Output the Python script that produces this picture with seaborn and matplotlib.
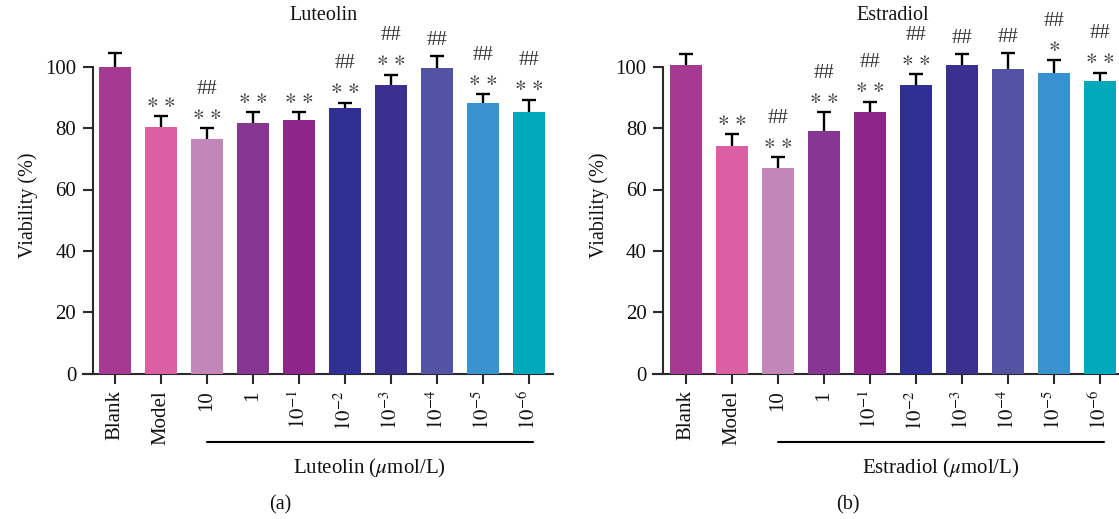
import numpy as np
import pandas as pd
import seaborn as sns
import matplotlib
matplotlib.use("Agg")
import matplotlib.pyplot as plt
import matplotlib.transforms as mtransforms

# ---------------- data ----------------
categories = ["Blank", "Model", "10", "1", "$10^{-1}$", "$10^{-2}$",
              "$10^{-3}$", "$10^{-4}$", "$10^{-5}$", "$10^{-6}$"]
colors = ["#A63A93", "#DC5FA4", "#C286B9", "#873792", "#8E2589",
          "#303092", "#3B2F90", "#5253A3", "#3892D0", "#00A8BC"]

lut_mean = [100.0, 80.2, 76.3, 81.5, 82.5, 86.7, 93.9, 99.5, 88.3, 85.1]
lut_upper = [104.3, 83.9, 80.0, 85.2, 85.1, 88.3, 97.4, 103.5, 91.1, 89.2]
lut_star = ["", "**", "**", "**", "**", "**", "**", "", "**", "**"]
lut_hash = ["", "", "##", "", "", "##", "##", "##", "##", "##"]

est_mean = [100.4, 74.3, 67.1, 79.2, 85.1, 94.2, 100.4, 99.1, 98.1, 95.2]
est_upper = [104.2, 78.0, 70.5, 85.2, 88.6, 97.6, 104.2, 104.6, 102.1, 98.0]
est_star = ["", "**", "**", "**", "**", "**", "", "", "*", "**"]
est_hash = ["", "", "##", "##", "##", "##", "##", "##", "##", "##"]

yticks = [0, 20, 40, 60, 80, 100]

# ---------------- style ----------------
sns.set_style("ticks")
plt.rcParams["font.family"] = ["Liberation Serif", "DejaVu Serif"]
plt.rcParams["mathtext.fontset"] = "stix"

W, H = 1119, 519
fig = plt.figure(figsize=(W / 100, H / 100), dpi=100)

AX_COLOR = "#2a2a2a"
ANN_COLOR = "#333333"
TXT = "#111111"
y_bottom_px = 373.7
px_per_unit_y = 3.07
ymax = 110.0
ax_h_px = ymax * px_per_unit_y


def make_panel(left_px, right_px, xlim, spine_x, mean, upper, stars, hashes,
               title, title_x, xlab, line_span, panel_lab, panel_x):
    ax = fig.add_axes([left_px / W, (H - y_bottom_px) / H,
                       (right_px - left_px) / W, ax_h_px / H])
    df = pd.DataFrame({"group": categories, "viability": mean})
    sns.barplot(data=df, x="group", y="viability", hue="group",
                order=categories, hue_order=categories, palette=colors,
                saturation=1, legend=False, width=0.7, ax=ax, zorder=3,
                errorbar=None, linewidth=0)
    xs = np.arange(len(categories))
    err = np.array(upper) - np.array(mean)
    ax.errorbar(xs, mean, yerr=err, fmt="none", ecolor="black",
                elinewidth=1.7, capsize=5, capthick=1.7, zorder=1)

    ax.set_xlim(*xlim)
    ax.set_ylim(0, ymax)
    ax.set_yticks(yticks)
    ax.set_yticklabels([str(t) for t in yticks])
    ax.set_xticks(xs)
    ax.set_xticklabels(categories, rotation=90, va="top", ha="center")
    ax.set_xlabel("")
    ax.set_ylabel("Viability (%)", fontsize=14.5, labelpad=5, color=TXT)

    for s in ("top", "right"):
        ax.spines[s].set_visible(False)
    ax.spines["left"].set_position(("data", spine_x))
    ax.spines["left"].set_bounds(0, 100)
    for s in ("left", "bottom"):
        ax.spines[s].set_color(AX_COLOR)
        ax.spines[s].set_linewidth(1.5)
    ax.tick_params(axis="both", direction="out", length=7, width=1.5,
                   color=AX_COLOR, labelsize=15, labelcolor=TXT, pad=5)
    ax.patch.set_alpha(0)

    # significance marks
    for i in range(len(categories)):
        levels = [m for m in (stars[i], hashes[i]) if m]
        for k, m in enumerate(levels):
            off = 14 if k == 0 else 38
            if m.startswith("#"):
                txt, fs, dy = m, 15, 1
            else:
                txt = "$\\ast\\,\\ast$" if m == "**" else "$\\ast$"
                fs, dy = 16, 0
            ax.annotate(txt, xy=(xs[i], upper[i]), xytext=(0, off + dy),
                        textcoords="offset pixels", ha="center", va="center",
                        fontsize=fs, color=ANN_COLOR, annotation_clip=False)

    trans = mtransforms.blended_transform_factory(ax.transData, ax.transAxes)
    line_y = -(442 - y_bottom_px) / ax_h_px
    ax.plot(line_span, [line_y, line_y], transform=trans, color="black",
            lw=1.5, clip_on=False)
    text_y = -(468 - y_bottom_px) / ax_h_px
    ax.text(np.mean(line_span), text_y, xlab, transform=trans, ha="center",
            va="center", fontsize=15, color=TXT)

    fig.text(title_x / W, 1 - 15.5 / H, title, ha="center", va="center",
             fontsize=14.5, color=TXT)
    fig.text(panel_x / W, 1 - 505 / H, panel_lab, ha="center", va="center",
             fontsize=14.5, color=TXT)
    return ax


make_panel(83, 553, (-0.696, 9.52), -0.478, lut_mean, lut_upper, lut_star,
           lut_hash, "Luteolin", 323, "Luteolin ($\\mu$mol/L)", [2, 9.08],
           "(a)", 280)
make_panel(653, 1119, (-0.717, 9.413), -0.493, est_mean, est_upper, est_star,
           est_hash, "Estradiol", 893, "Estradiol ($\\mu$mol/L)", [2, 9.08],
           "(b)", 848)

fig.savefig("out.png", dpi=100)
